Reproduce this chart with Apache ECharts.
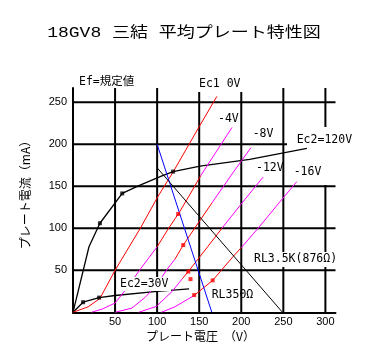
<!DOCTYPE html>
<html><head><meta charset="utf-8">
<script src="https://cdn.jsdelivr.net/npm/echarts@6/dist/echarts.min.js"></script>
<style>html,body{margin:0;padding:0;background:#fff}#c{width:370px;height:354px}</style>
</head><body><div id="c"></div>
<script>
// ---- data ----
const xTicks = [50, 100, 150, 200, 250, 300];
const yTicks = [50, 100, 150, 200, 250];
const X_MAX = 312, Y_MAX = 267;

const ec2_120 = [[0,0],[19,78],[32,106],[58.5,141.5],[79,151],[105,162],[119,167.5],[151,174],[210,182],[278,195]];
const ec2_30  = [[0,0],[12,12],[31,17.5],[50,20],[100,25],[138,28]];
const ec2Dots = [[32,106],[58.5,141.5],[119,167.5],[12,12],[31,17.5]];

const ec1_0V = [[0,0],[18,6.5],[32,16.5],[50,50],[80,100],[101,138],[119,167],[150,221],[171,257]];
const ec1_4V_low = [[22,0],[35,4],[50,11],[65,30],[79,50],[100,78]];
const ec1_4V_mid = [[100,78],[113,99],[127,120],[140,142],[152,163]];
const ec1_4V_top = [[152,163],[163,180],[176,200],[189,220]];
const ec1_8V_low = [[50,0],[70,5],[86,18],[100,33],[111,50],[121,63]];
const ec1_8V_mid = [[121,63],[131,80],[150,108],[165,130]];
const ec1_8V_top = [[165,130],[190,166],[211.5,196]];
const ec1_12V_low = [[78,0],[99,7],[118,25],[130,40]];
const ec1_12V_mid = [[130,40],[137,48.5],[160,78],[177,100]];
const ec1_12V_top = [[177,100],[204,134],[226,161]];
const ec1_16V_low = [[105,0],[121,6.5],[144,20]];
const ec1_16V_mid = [[144,20],[166,38],[190,66],[200,77]];
const ec1_16V_top = [[200,77],[220,100],[248,134],[266,155.5]];

const opDots = [[125,117],[131,80],[137,48.5],[139.7,39.5],[166,38],[144,20.5]];
const rl350 = [[100,200],[165,0]];
const rl3k5 = [[100,172],[249,0]];

// ---- chart ----
const RED = '#ff0000', MAG = '#ff00ff', BLUE = '#0000ff', BLK = '#000000';
const LBL_FONT = '11.5px "DejaVu Sans Mono", "Noto Sans CJK JP", monospace';

function line(data, color, width) {
  return { type: 'line', data: data, symbol: 'none', z: 3, silent: true,
    lineStyle: { color: color, width: width || 1 }, itemStyle: { color: color } };
}
function vGrid() {
  return { type: 'custom', z: 1, silent: true, clip: false,
    data: xTicks.map(v => [v, 0]),
    renderItem: (p, api) => {
      const a = api.coord([api.value(0), 0]), b = api.coord([api.value(0), Y_MAX]);
      return { type: 'line', shape: { x1: a[0], y1: a[1], x2: b[0], y2: b[1] }, style: { stroke: BLK, lineWidth: 2 } };
    } };
}
function hGrid() {
  return { type: 'custom', z: 1, silent: true, clip: false,
    data: yTicks.map(v => [0, v]),
    renderItem: (p, api) => {
      const a = api.coord([0, api.value(1)]), b = api.coord([X_MAX, api.value(1)]);
      return { type: 'line', shape: { x1: a[0], y1: a[1], x2: b[0], y2: b[1] }, style: { stroke: BLK, lineWidth: 2 } };
    } };
}
function txt(t, x, y, extra) {
  return Object.assign({ type: 'text', x: x, y: y, z: 101,
    style: { text: t, font: LBL_FONT, fill: BLK, align: 'left', verticalAlign: 'middle' } }, extra || {});
}
function cover(x, y, w, h) {
  return { type: 'rect', z: 100, shape: { x: x, y: y, width: w, height: h }, style: { fill: '#fff' } };
}

const chart = echarts.init(document.getElementById('c'));
chart.setOption({
  animation: false,
  backgroundColor: '#fff',
  grid: { left: 73, top: 88, width: 262.5, height: 224.3 },
  xAxis: {
    type: 'value', min: 0, max: X_MAX, interval: 50,
    axisLine: { lineStyle: { color: BLK, width: 2 } },
    axisTick: { show: false }, splitLine: { show: false },
    axisLabel: { color: BLK, fontSize: 11, fontFamily: 'Liberation Sans', margin: 4,
      formatter: v => (v > 0 && v % 50 === 0) ? String(v) : '' }
  },
  yAxis: {
    type: 'value', min: 0, max: Y_MAX, interval: 50,
    axisLine: { lineStyle: { color: BLK, width: 2 } },
    axisTick: { show: false }, splitLine: { show: false },
    axisLabel: { color: BLK, fontSize: 11, fontFamily: 'Liberation Sans', margin: 6,
      formatter: v => (v > 0 && v % 50 === 0) ? String(v) : '' }
  },
  series: [
    vGrid(), hGrid(),
    line(ec2_120, BLK, 1.3), line(ec2_30, BLK, 1.3),
    line(ec1_0V, RED),
    line(ec1_4V_low, MAG), line(ec1_4V_mid, RED), line(ec1_4V_top, MAG),
    line(ec1_8V_low, MAG), line(ec1_8V_mid, RED), line(ec1_8V_top, MAG),
    line(ec1_12V_low, MAG), line(ec1_12V_mid, RED), line(ec1_12V_top, MAG),
    line(ec1_16V_low, MAG), line(ec1_16V_mid, RED), line(ec1_16V_top, MAG),
    line(rl350, BLUE), line(rl3k5, BLK),
    { type: 'scatter', data: opDots, symbol: 'rect', symbolSize: 4, z: 4, silent: true, itemStyle: { color: RED } },
    { type: 'scatter', data: ec2Dots, symbol: 'rect', symbolSize: 4, z: 4, silent: true, itemStyle: { color: BLK } }
  ],
  graphic: [
    { type: 'text', x: 184, y: 33, scaleX: 1.2, z: 101,
      style: { text: '18GV8 三結 平均プレート特性図', font: '15px "Liberation Mono", "Noto Sans CJK JP", monospace', fill: BLK, align: 'center', verticalAlign: 'middle' } },
    cover(197, 77, 46, 15),
    cover(287, 131, 68, 15),
    cover(323, 127, 6, 58),
    cover(252, 252, 88, 15),
    cover(118, 277, 53, 14),
    txt('Ef=規定値', 79, 82),
    txt('Ec1 0V', 199, 84),
    txt('-4V', 218, 119),
    txt('-8V', 252.7, 134),
    txt('Ec2=120V', 296.7, 140),
    txt('-12V', 256, 168.3),
    txt('-16V', 293.7, 172.3),
    txt('RL3.5K(876Ω)', 254, 259.3),
    txt('RL350Ω', 211.7, 295),
    txt('Ec2=30V', 120, 284),
    { type: 'text', x: 200.5, y: 336, z: 101,
      style: { text: 'プレート電圧　（V）', font: '12px "Noto Sans CJK JP"', fill: BLK, align: 'center', verticalAlign: 'middle' } },
    { type: 'text', x: 25, y: 192, rotation: Math.PI / 2, z: 101,
      style: { text: 'プレート電流（mA）', font: '12px "Noto Sans CJK JP"', fill: BLK, align: 'center', verticalAlign: 'middle' } }
  ]
});
</script>
</body></html>
